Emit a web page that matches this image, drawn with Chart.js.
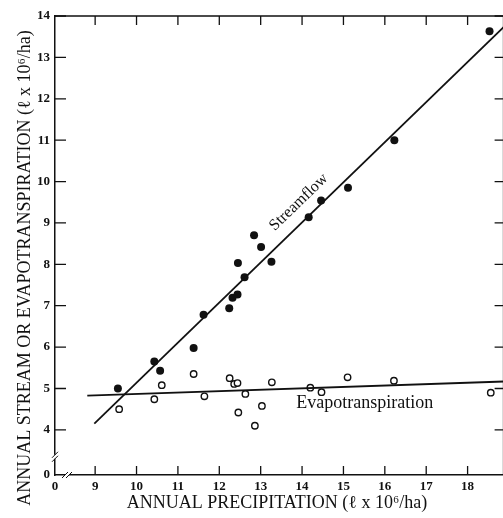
<!DOCTYPE html>
<html>
<head>
<meta charset="utf-8">
<script src="https://cdn.jsdelivr.net/npm/chart.js@4/dist/chart.umd.min.js"></script>
<style>
html, body { margin: 0; padding: 0; background: #fff; overflow: hidden; }
#wrap { width: 509px; height: 518px; }
</style>
</head>
<body>
<div id="wrap"><canvas id="chart"></canvas></div>
<script>
// streamflow (filled dots)
let streamPrecip = [9.55, 10.43, 10.57, 11.38, 11.62, 12.24, 12.32, 12.44, 12.45, 12.61, 12.84, 13.01, 13.26, 14.16, 14.46, 15.11, 16.23, 18.53];
let streamFlow   = [5.00, 5.65, 5.43, 5.98, 6.78, 6.94, 7.19, 7.27, 8.03, 7.69, 8.70, 8.42, 8.06, 9.14, 9.54, 9.85, 11.00, 13.63];

// evapotranspiration (open dots)
let evapPrecip = [9.58, 10.43, 10.61, 11.38, 11.64, 12.25, 12.36, 12.44, 12.46, 12.63, 12.86, 13.03, 13.27, 14.20, 14.47, 15.10, 16.22, 18.56];
let evapValues = [4.50, 4.74, 5.08, 5.35, 4.81, 5.25, 5.11, 5.13, 4.42, 4.87, 4.10, 4.58, 5.15, 5.02, 4.91, 5.27, 5.19, 4.90];

// fitted lines, end points
let streamLineX = [8.98, 18.9];
let streamLineY = [4.15, 13.76];
let evapLineX = [8.81, 18.9];
let evapLineY = [4.83, 5.17];

// axes (the low end of each axis is broken and labelled 0)
let xTicks = [9, 10, 11, 12, 13, 14, 15, 16, 17, 18];
let yTicks = [4, 5, 6, 7, 8, 9, 10, 11, 12, 13, 14];
let xMin = 8.03, xMax = 18.87;
let yMin = 2.91, yMax = 14;

let serif = "'Liberation Serif', 'DejaVu Serif', serif";

function toPoints(xs, ys) {
    return xs.map((x, i) => ({x: x, y: ys[i]}));
}

// box frame, inward ticks, axis breaks, titles and the in-plot labels
let framePlugin = {
    id: 'frame',
    afterDraw(chart) {
        let ctx = chart.ctx;
        let a = chart.chartArea;
        let xs = chart.scales.x;
        let ys = chart.scales.y;
        let len = 9;
        ctx.save();
        ctx.strokeStyle = '#111';
        ctx.lineWidth = 1.5;
        ctx.beginPath();
        ctx.moveTo(a.left, a.top);
        ctx.lineTo(a.right, a.top);
        ctx.lineTo(a.right, a.bottom);
        ctx.stroke();

        ctx.lineWidth = 1.3;
        ctx.beginPath();
        xTicks.forEach(v => {
            let px = xs.getPixelForValue(v);
            ctx.moveTo(px, a.bottom); ctx.lineTo(px, a.bottom - len);
            ctx.moveTo(px, a.top); ctx.lineTo(px, a.top + len);
        });
        yTicks.forEach(v => {
            let py = ys.getPixelForValue(v);
            ctx.moveTo(a.left, py); ctx.lineTo(a.left + len + 2, py);
            ctx.moveTo(a.right, py); ctx.lineTo(a.right - len, py);
        });
        ctx.stroke();

        // break marks
        let by = ys.getPixelForValue(3.35);
        let bx = xs.getPixelForValue(8.32);
        ctx.fillStyle = '#fff';
        ctx.fillRect(a.left - 2, by - 2, 4, 4);
        ctx.fillRect(bx - 2, a.bottom - 2, 4, 4);
        ctx.lineWidth = 1;
        ctx.beginPath();
        ctx.moveTo(a.left - 3, by + 1); ctx.lineTo(a.left + 3, by - 5);
        ctx.moveTo(a.left - 3, by + 5); ctx.lineTo(a.left + 3, by - 1);
        ctx.moveTo(bx - 5, a.bottom + 3); ctx.lineTo(bx + 1, a.bottom - 3);
        ctx.moveTo(bx - 1, a.bottom + 3); ctx.lineTo(bx + 5, a.bottom - 3);
        ctx.stroke();

        // in-plot labels
        ctx.fillStyle = '#111';
        ctx.textBaseline = 'middle';
        let sx = xs.getPixelForValue(13.92);
        let sy = ys.getPixelForValue(9.5);
        let ang = Math.atan2(ys.getPixelForValue(streamLineY[1]) - ys.getPixelForValue(streamLineY[0]),
                             xs.getPixelForValue(streamLineX[1]) - xs.getPixelForValue(streamLineX[0]));
        ctx.translate(sx, sy);
        ctx.rotate(ang);
        ctx.textAlign = 'center';
        ctx.font = "16px " + serif;
        ctx.fillText('Streamflow', 0, 0);
        ctx.setTransform(1, 0, 0, 1, 0, 0);

        ctx.textAlign = 'left';
        ctx.font = "18px " + serif;
        ctx.fillText('Evapotranspiration', xs.getPixelForValue(13.86), ys.getPixelForValue(4.65));

        // x axis title
        ctx.textAlign = 'center';
        ctx.fillText('ANNUAL PRECIPITATION (\u2113 x 10\u2076/ha)', 277, 503);

        // y axis title
        ctx.translate(25, 268);
        ctx.rotate(-Math.PI / 2);
        ctx.fillText('ANNUAL STREAM OR EVAPOTRANSPIRATION (\u2113 x 10\u2076/ha)', 0, 0);
        ctx.restore();
    }
};

let ctx = document.getElementById('chart').getContext('2d');
let chart = new Chart(ctx, {
    type: 'scatter',
    data: {
        datasets: [
            {
                type: 'line',
                data: toPoints(streamLineX, streamLineY),
                borderColor: '#111',
                borderWidth: 1.8,
                pointRadius: 0,
                fill: false
            },
            {
                type: 'line',
                data: toPoints(evapLineX, evapLineY),
                borderColor: '#111',
                borderWidth: 1.8,
                pointRadius: 0,
                fill: false
            },
            {
                label: 'Streamflow',
                data: toPoints(streamPrecip, streamFlow),
                pointRadius: 4,
                backgroundColor: '#111',
                borderWidth: 0
            },
            {
                label: 'Evapotranspiration',
                data: toPoints(evapPrecip, evapValues),
                pointRadius: 3.2,
                backgroundColor: '#fff',
                borderColor: '#111',
                borderWidth: 1.4
            }
        ]
    },
    options: {
        responsive: true,
        maintainAspectRatio: false,
        animation: false,
        layout: { padding: { top: 16, right: 0, left: 0, bottom: 0 } },
        plugins: {
            legend: { display: false },
            tooltip: { enabled: false }
        },
        scales: {
            x: {
                type: 'linear',
                min: xMin,
                max: xMax,
                afterBuildTicks: s => { s.ticks = [xMin].concat(xTicks).map(v => ({value: v})); },
                afterFit: s => { s.height = 43; },
                ticks: {
                    autoSkip: false,
                    maxRotation: 0,
                    padding: 4,
                    color: '#111',
                    font: { family: serif, size: 13, weight: 'bold' },
                    callback: v => v === xMin ? '0' : v
                },
                grid: { drawOnChartArea: false, drawTicks: false },
                border: { color: '#111', width: 1.5 }
            },
            y: {
                type: 'linear',
                min: yMin,
                max: yMax,
                afterBuildTicks: s => { s.ticks = [yMin].concat(yTicks).map(v => ({value: v})); },
                afterFit: s => { s.width = 55; },
                ticks: {
                    autoSkip: false,
                    padding: 5,
                    color: '#111',
                    font: { family: serif, size: 13, weight: 'bold' },
                    callback: v => v === yMin ? '0' : v
                },
                grid: { drawOnChartArea: false, drawTicks: false },
                border: { color: '#111', width: 1.5 }
            }
        }
    },
    plugins: [framePlugin]
});
</script>
</body>
</html>
